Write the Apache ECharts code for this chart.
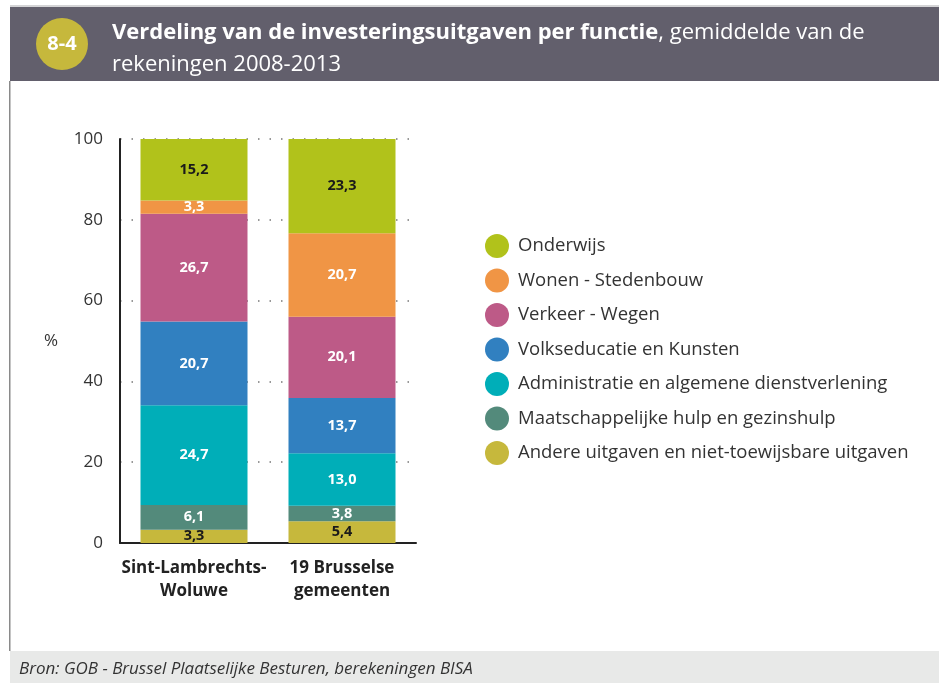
<!DOCTYPE html>
<html>
<head>
<meta charset="utf-8">
<script src="https://cdn.jsdelivr.net/npm/echarts@6/dist/echarts.min.js"></script>
<style>
  html, body { margin: 0; padding: 0; background: #fff; }
  #chart { width: 939px; height: 683px; }
</style>
</head>
<body>
<div id="chart"></div>
<script>
// categories and series values (stack from bottom to top)
const categories = ['Sint-Lambrechts-\nWoluwe', '19 Brusselse\ngemeenten'];
const andere = [3.3, 5.4];
const maatschappelijk = [6.1, 3.8];
const administratie = [24.7, 13.0];
const volkseducatie = [20.7, 13.7];
const verkeer = [26.7, 20.1];
const wonen = [3.3, 20.7];
const onderwijs = [15.2, 23.3];
const yTicks = [0, 20, 40, 60, 80, 100];

const chart = echarts.init(document.getElementById('chart'));
const font = '"Open Sans", "Noto Sans", sans-serif';

function makeSeries(name, data, color, labelColor) {
  return {
    name: name,
    type: 'bar',
    stack: 'total',
    barWidth: 107,
    data: data,
    itemStyle: { color: color },
    label: {
      show: true,
      position: 'inside',
      formatter: p => p.value.toFixed(1).replace('.', ','),
      color: labelColor,
      fontFamily: font,
      fontWeight: 'bold',
      fontSize: 14.5
    }
  };
}

const option = {
  animation: false,
  textStyle: { fontFamily: font },
  graphic: [
    // bovenste lijn
    { type: 'rect', z: -2, shape: { x: 10, y: 5, width: 929, height: 2 }, style: { fill: '#d4d4d6' } },
    // kopband
    { type: 'rect', z: -2, shape: { x: 10, y: 7, width: 929, height: 74 }, style: { fill: '#625f6c' } },
    // linker kaderlijn
    { type: 'rect', z: -2, shape: { x: 9, y: 81, width: 1.5, height: 570 }, style: { fill: '#8a8a8a' } },
    // voetband
    { type: 'rect', z: -2, shape: { x: 10, y: 651, width: 929, height: 32 }, style: { fill: '#e8e9e8' } },
    // badge
    { type: 'circle', z: -1, shape: { cx: 62, cy: 44, r: 26 }, style: { fill: '#c6b83c' } },
    {
      type: 'text', z: 10, x: 62, y: 44,
      style: { text: '8-4', fill: '#fff', font: 'bold 20px ' + font, align: 'center', verticalAlign: 'middle' }
    },
    {
      type: 'text', z: 10, left: 19, top: 661,
      style: { text: 'Bron: GOB - Brussel Plaatselijke Besturen, berekeningen BISA', fill: '#333', font: 'italic 17px ' + font }
    }
  ],
  title: {
    left: 107,
    top: 12,
    text: '{b|Verdeling van de investeringsuitgaven per functie}{n|, gemiddelde van de}\n{n|rekeningen 2008-2013}',
    textStyle: {
      rich: {
        b: { color: '#fff', fontSize: 22, fontWeight: 'bold', fontFamily: font, lineHeight: 32 },
        n: { color: '#fff', fontSize: 22, fontWeight: 'normal', fontFamily: font, lineHeight: 32 }
      }
    }
  },
  legend: {
    orient: 'vertical',
    left: 480,
    top: 229,
    icon: 'circle',
    itemWidth: 24,
    itemHeight: 24,
    itemGap: 10.5,
    data: ['Onderwijs', 'Wonen - Stedenbouw', 'Verkeer - Wegen', 'Volkseducatie en Kunsten',
      'Administratie en algemene dienstverlening', 'Maatschappelijke hulp en gezinshulp',
      'Andere uitgaven en niet-toewijsbare uitgaven'],
    textStyle: { fontSize: 18.5, color: '#333', fontFamily: font, padding: [0, 0, 0, 4] }
  },
  grid: { left: 120, top: 139, width: 296, height: 404, containLabel: false },
  xAxis: {
    type: 'category',
    data: categories,
    axisLine: { show: true, lineStyle: { color: '#222', width: 2 } },
    axisTick: { show: false },
    axisLabel: {
      interval: 0,
      color: '#222', fontSize: 17, fontWeight: 'bold', fontFamily: font,
      lineHeight: 23, margin: 14
    }
  },
  yAxis: {
    type: 'value',
    min: yTicks[0],
    max: yTicks[yTicks.length - 1],
    interval: 20,
    name: '%',
    nameLocation: 'middle',
    nameRotate: 0,
    nameGap: 62,
    nameTextStyle: { fontSize: 17, color: '#333', fontFamily: font },
    axisLine: { show: true, lineStyle: { color: '#222', width: 2 } },
    axisTick: { show: false },
    axisLabel: { color: '#333', fontSize: 17, fontFamily: font, margin: 17 },
    splitLine: { show: true, lineStyle: { color: '#777', width: 1.5, type: [1.5, 10] } }
  },
  series: [
    makeSeries('Andere uitgaven en niet-toewijsbare uitgaven', andere, '#c6b83c', '#1a1a1a'),
    makeSeries('Maatschappelijke hulp en gezinshulp', maatschappelijk, '#538a7b', '#fff'),
    makeSeries('Administratie en algemene dienstverlening', administratie, '#00aeb8', '#fff'),
    makeSeries('Volkseducatie en Kunsten', volkseducatie, '#3180c0', '#fff'),
    makeSeries('Verkeer - Wegen', verkeer, '#bd5a87', '#fff'),
    makeSeries('Wonen - Stedenbouw', wonen, '#f09545', '#fff'),
    makeSeries('Onderwijs', onderwijs, '#b1c21b', '#1a1a1a')
  ]
};

chart.setOption(option);
window.addEventListener('resize', chart.resize);
</script>
</body>
</html>
